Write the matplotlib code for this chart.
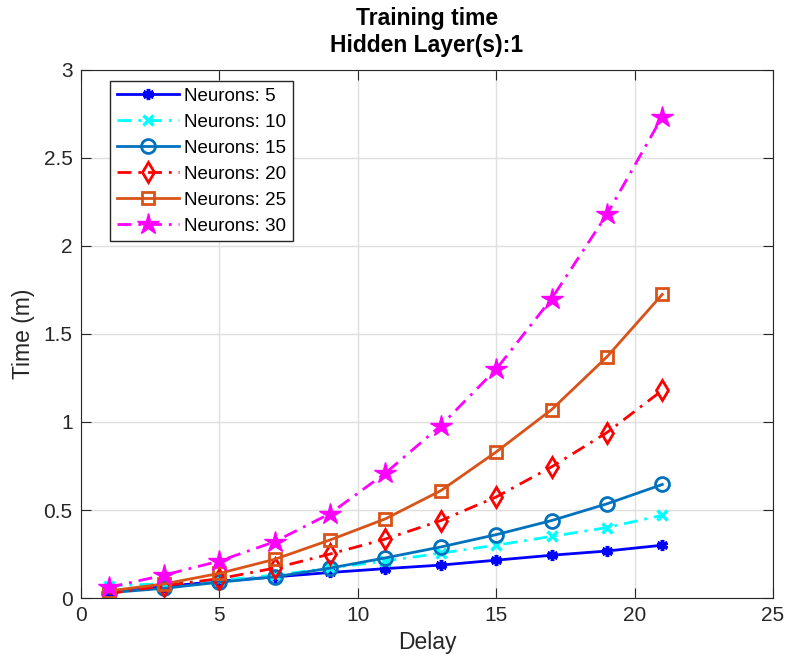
import matplotlib
matplotlib.use('Agg')
import matplotlib.pyplot as plt

plt.rcParams['font.family'] = ['Liberation Sans', 'DejaVu Sans']

delay = [1, 3, 5, 7, 9, 11, 13, 15, 17, 19, 21]

t_n5 = [0.035, 0.065, 0.095, 0.12, 0.145, 0.167, 0.187, 0.215, 0.243, 0.267, 0.30]
t_n10 = [0.07, 0.08, 0.10, 0.13, 0.17, 0.21, 0.255, 0.30, 0.35, 0.40, 0.47]
t_n15 = [0.03, 0.055, 0.09, 0.12, 0.17, 0.228, 0.29, 0.36, 0.44, 0.535, 0.645]
t_n20 = [0.025, 0.07, 0.11, 0.17, 0.25, 0.335, 0.44, 0.574, 0.745, 0.94, 1.18]
t_n25 = [0.04, 0.08, 0.14, 0.22, 0.33, 0.45, 0.61, 0.83, 1.07, 1.37, 1.725]
t_n30 = [0.06, 0.13, 0.21, 0.32, 0.48, 0.71, 0.98, 1.30, 1.70, 2.18, 2.735]

labels = ['Neurons: 5', 'Neurons: 10', 'Neurons: 15', 'Neurons: 20', 'Neurons: 25', 'Neurons: 30']

dashdot = (0, (5, 2.5, 1, 2.5))
styles = [
	dict(color=(0, 0, 1), ls='-', marker=(6, 2, 0), ms=8, mew=2.5),
	dict(color=(0, 1, 1), ls=dashdot, marker='x', ms=7, mew=2.5),
	dict(color=(0, 0.447, 0.741), ls='-', marker='o', ms=10, mfc='none', mew=2),
	dict(color=(1, 0, 0), ls=dashdot, marker='d', ms=10, mfc='none', mew=2),
	dict(color=(0.85, 0.325, 0.098), ls='-', marker='s', ms=8, mfc='none', mew=2),
	dict(color=(1, 0, 1), ls=dashdot, marker='*', ms=16),
]

fig = plt.figure(figsize=(7.89, 6.66), dpi=100)
ax = fig.add_axes([0.1027, 0.1021, 0.877, 0.7928])

series = [t_n5, t_n10, t_n15, t_n20, t_n25, t_n30]
for vals, lab, st in zip(series, labels, styles):
	ax.plot(delay, vals, lw=2, label=lab, **st)

ax.set_xlim(0, 25)
ax.set_ylim(0, 3)
ax.set_xticks([0, 5, 10, 15, 20, 25])
ax.set_yticks([0, 0.5, 1, 1.5, 2, 2.5, 3])
ax.set_yticklabels(['0', '0.5', '1', '1.5', '2', '2.5', '3'])
ax.grid(True, color='#dfdfdf', lw=1)
ax.set_axisbelow(True)
ax.tick_params(direction='in', top=True, right=True, labelsize=15, length=7,
	color='#262626', labelcolor='#262626', pad=6)
for s in ax.spines.values():
	s.set_color('#262626')
ax.set_xlabel('Delay', fontsize=16.5, color='#262626', labelpad=4)
ax.set_ylabel('Time (m)', fontsize=16.5, color='#262626', labelpad=6)
ax.set_title('Training time\nHidden Layer(s):1', fontsize=16.5, fontweight='bold', linespacing=1.2, pad=13)

leg = ax.legend(loc='upper left', fontsize=13.5, fancybox=False, framealpha=1, edgecolor='#262626',
	borderaxespad=0.6, handlelength=3.3, labelspacing=0.47, borderpad=0.35, handletextpad=0.3,
	bbox_to_anchor=(0.026, 1.0))
leg.get_frame().set_linewidth(1)

plt.savefig('out.png', dpi=100)
